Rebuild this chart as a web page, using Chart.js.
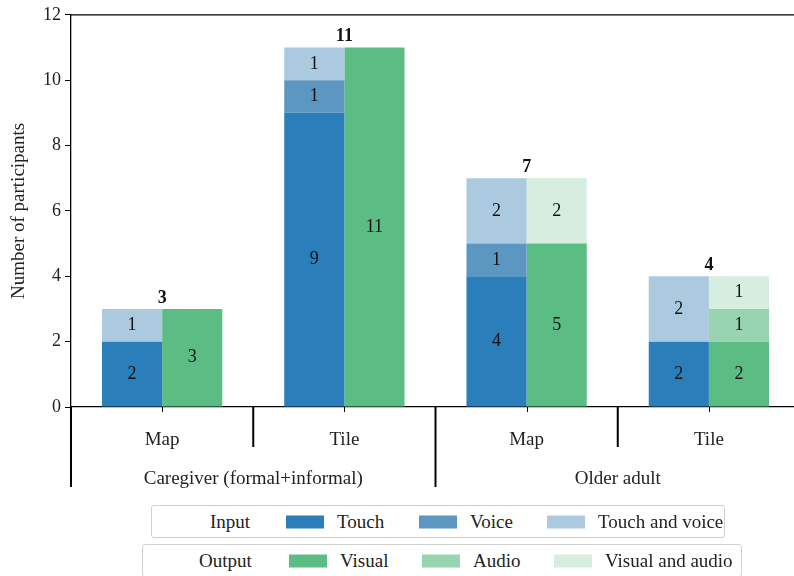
<!DOCTYPE html>
<html>
<head>
<meta charset="utf-8">
<script src="https://cdn.jsdelivr.net/npm/chart.js@4"></script>
<style>
  html, body { margin: 0; padding: 0; background: #fff; overflow: hidden; }
  #wrap { position: relative; width: 794px; height: 576px; overflow: hidden; }
  canvas { position: absolute; left: 0; top: 0; }
  .lg { position: absolute; border: 1px solid #d0d0d0; border-radius: 3px; background: #fff;
        font-family: "Liberation Serif", serif; font-size: 19px; color: #222; }
  .lg span { position: absolute; top: 50%; transform: translateY(-50%); white-space: nowrap; }
  .lg i { position: absolute; top: 50%; transform: translateY(-50%); width: 38px; height: 13px; }
</style>
</head>
<body>
<div id="wrap">
  <canvas id="chart" width="800" height="576"></canvas>
  <div class="lg" id="lg-in" style="left:151px; top:505px; width:572px; height:31px;"></div>
  <div class="lg" id="lg-out" style="left:142px; top:544px; width:598px; height:31px;"></div>
</div>
<script>
document.addEventListener('DOMContentLoaded', () => {
    // --- data ---
    const categories = ['Map', 'Tile', 'Map', 'Tile'];
    const groups = ['Caregiver (formal+informal)', 'Older adult'];
    const yTicks = [0, 2, 4, 6, 8, 10, 12];

    const inputLabels = ['Touch', 'Voice', 'Touch and voice'];
    const touch = [2, 9, 4, 2];
    const voice = [0, 1, 1, 0];
    const touchVoice = [1, 1, 2, 2];

    const outputLabels = ['Visual', 'Audio', 'Visual and audio'];
    const visual = [3, 11, 5, 2];
    const audio = [0, 0, 0, 1];
    const visualAudio = [0, 0, 2, 1];

    const inputColors = ['#2a7eb9', '#5b97c1', '#abcadf'];
    const outputColors = ['#5bbd84', '#98d4b0', '#d5eee0'];

    const FONT = '"Liberation Serif", serif';

    const mk = (label, data, color, stack) => ({
        label, data, stack,
        backgroundColor: color,
        borderWidth: 0,
        categoryPercentage: 0.66,
        barPercentage: 1.0
    });

    const datasets = [
        mk(inputLabels[0], touch, inputColors[0], 'in'),
        mk(inputLabels[1], voice, inputColors[1], 'in'),
        mk(inputLabels[2], touchVoice, inputColors[2], 'in'),
        mk(outputLabels[0], visual, outputColors[0], 'out'),
        mk(outputLabels[1], audio, outputColors[1], 'out'),
        mk(outputLabels[2], visualAudio, outputColors[2], 'out')
    ];

    // segment values, totals, top spine, grouped x labels
    const annotate = {
        id: 'annotate',
        afterDatasetsDraw(chart) {
            const ctx = chart.ctx;
            const area = chart.chartArea;
            const x = chart.scales.x;
            const y = chart.scales.y;
            ctx.save();
            ctx.fillStyle = '#111';
            ctx.textAlign = 'center';
            ctx.textBaseline = 'middle';
            ctx.font = '18px ' + FONT;
            chart.data.datasets.forEach((ds, di) => {
                chart.getDatasetMeta(di).data.forEach((bar, i) => {
                    const v = ds.data[i];
                    if (!v) return;
                    ctx.fillText(String(v), bar.x, (bar.y + bar.base) / 2);
                });
            });
            ctx.font = 'bold 18px ' + FONT;
            categories.forEach((c, i) => {
                const total = Math.max(touch[i] + voice[i] + touchVoice[i],
                                       visual[i] + audio[i] + visualAudio[i]);
                ctx.fillText(String(total), x.getPixelForValue(i), y.getPixelForValue(total) - 11);
            });

            // top spine
            ctx.strokeStyle = '#000';
            ctx.lineWidth = 1.3;
            ctx.beginPath();
            ctx.moveTo(area.left, area.top);
            ctx.lineTo(area.right, area.top);
            ctx.stroke();

            // tick marks at category centers
            ctx.lineWidth = 1;
            categories.forEach((c, i) => {
                const px = Math.round(x.getPixelForValue(i)) + 0.5;
                ctx.beginPath();
                ctx.moveTo(px, area.bottom);
                ctx.lineTo(px, area.bottom + 5);
                ctx.stroke();
            });

            // separators
            const step = (area.right - area.left) / categories.length;
            ctx.lineWidth = 2;
            for (let k = 0; k <= categories.length; k++) {
                const px = area.left + k * step;
                const long = k % 2 === 0;
                ctx.beginPath();
                ctx.moveTo(px, area.bottom);
                ctx.lineTo(px, area.bottom + (long ? 80 : 40));
                ctx.stroke();
            }

            // labels
            ctx.font = '19px ' + FONT;
            ctx.fillStyle = '#222';
            categories.forEach((c, i) => {
                ctx.fillText(c, x.getPixelForValue(i), area.bottom + 33);
            });
            groups.forEach((g, gi) => {
                const cx = area.left + (gi * 2 + 1) * step;
                ctx.fillText(g, cx, area.bottom + 72);
            });
            ctx.restore();
        }
    };

    new Chart(document.getElementById('chart'), {
        type: 'bar',
        data: { labels: categories, datasets },
        plugins: [annotate],
        options: {
            responsive: false,
            animation: false,
            layout: { padding: { top: 14, bottom: 169, left: 0, right: 0 } },
            plugins: { legend: { display: false }, tooltip: { enabled: false } },
            scales: {
                x: {
                    stacked: true,
                    afterFit: s => { s.height = 0; },
                    ticks: { display: false },
                    grid: { display: false },
                    border: { display: true, color: '#000', width: 1.3 }
                },
                y: {
                    stacked: true,
                    min: 0, max: 12,
                    afterFit: s => { s.width = 71; },
                    afterBuildTicks: s => { s.ticks = yTicks.map(v => ({ value: v })); },
                    ticks: { color: '#222', font: { family: FONT, size: 18 }, padding: 4 },
                    grid: { drawOnChartArea: false, drawTicks: true, tickLength: 6, color: '#000' },
                    border: { display: true, color: '#000', width: 1.3 },
                    title: {
                        display: true, text: 'Number of participants', color: '#222',
                        font: { family: FONT, size: 19 }, padding: { top: 8, bottom: 0 }
                    }
                }
            }
        }
    });

    // --- legend boxes ---
    function buildLegend(el, title, labels, colors, pos) {
        let html = `<span style="left:${pos.title}px">${title}</span>`;
        labels.forEach((l, i) => {
            html += `<i style="left:${pos.sw[i]}px; background:${colors[i]}"></i>`;
            html += `<span style="left:${pos.sw[i] + 51}px">${l}</span>`;
        });
        el.innerHTML = html;
    }
    buildLegend(document.getElementById('lg-in'), 'Input', inputLabels, inputColors,
        { title: 58, sw: [134, 267, 395] });
    buildLegend(document.getElementById('lg-out'), 'Output', outputLabels, outputColors,
        { title: 56, sw: [146, 279, 411] });
});
</script>
</body>
</html>
